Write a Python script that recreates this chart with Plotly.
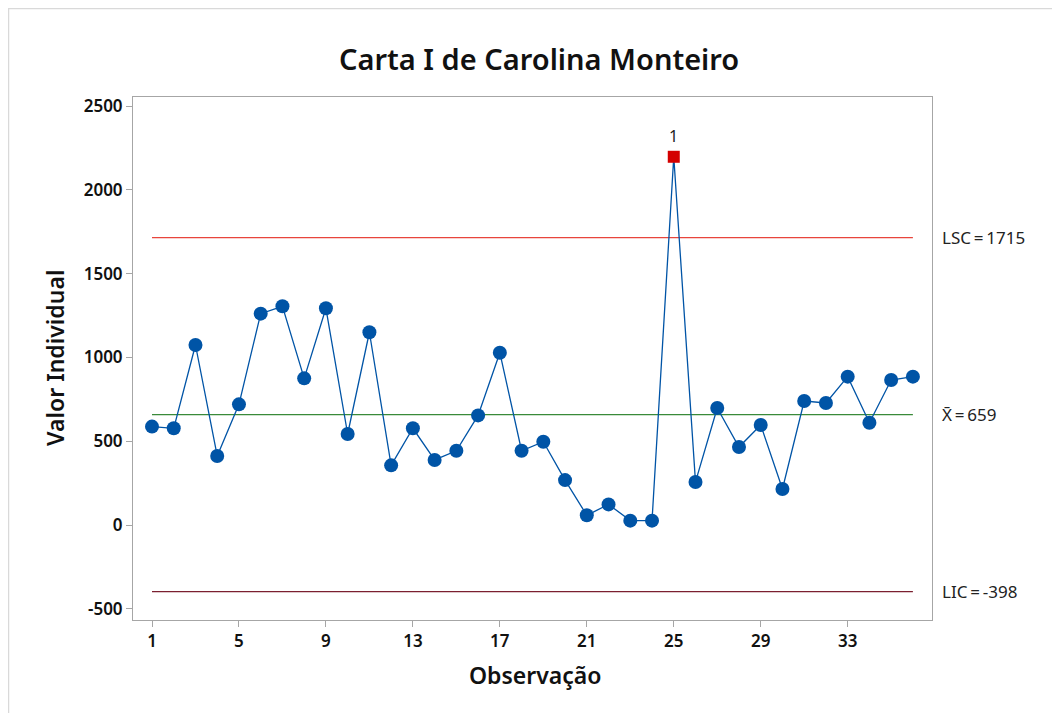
import plotly.graph_objects as go

observacao = list(range(1, 37))
valores = [587, 577, 1074, 412, 720, 1261, 1305, 875, 1293, 543,
           1150, 356, 577, 388, 443, 654, 1028, 443, 497, 268,
           58, 123, 26, 26, 2197, 257, 698, 465, 597, 215,
           740, 728, 885, 610, 865, 885]
lsc = 1715
media = 659
lic = -398
fora_controle = [25]
x_ticks = [1, 5, 9, 13, 17, 21, 25, 29, 33]
y_ticks = [-500, 0, 500, 1000, 1500, 2000, 2500]
y_tick_text = ["-500", "0", "500", "1000", "1500", "2000", "2500"]

OFF = 8  # page body margin
W, H = 1052, 705
L, T = 133 - OFF, 97 - OFF
R = W - (932 - OFF)
B = H - (620 - OFF)
pw, ph = W - L - R, H - T - B

def px(xp):
    return (xp - OFF - L) / pw

def py(yp):
    return (H - B - (yp - OFF)) / ph

FONT = "Noto Sans"
blue = "#0054A6"

fig = go.Figure()

for val, col in [(lsc, "#E8453C"), (media, "#3A8A3A"), (lic, "#7B2030")]:
    fig.add_trace(go.Scatter(x=[observacao[0], observacao[-1]], y=[val, val],
                             mode="lines", line=dict(color=col, width=1.3),
                             hoverinfo="skip", showlegend=False))

fig.add_trace(go.Scatter(x=observacao, y=valores, mode="lines",
                         line=dict(color=blue, width=1.3), showlegend=False))

normal_x = [o for o in observacao if o not in fora_controle]
normal_y = [v for o, v in zip(observacao, valores) if o not in fora_controle]
fig.add_trace(go.Scatter(x=normal_x, y=normal_y, mode="markers",
                         marker=dict(color=blue, size=14, symbol="circle"),
                         showlegend=False))
out_x = fora_controle
out_y = [valores[o - 1] for o in fora_controle]
fig.add_trace(go.Scatter(x=out_x, y=out_y, mode="markers",
                         marker=dict(color="#D40000", size=12, symbol="square"),
                         showlegend=False))

for o, v in zip(out_x, out_y):
    fig.add_annotation(x=o, y=v, text="1", showarrow=False, yshift=21,
                       font=dict(family=FONT, size=16, color="#222222"))

sp = "\u2009"
for val, txt in [(lsc, f"LSC{sp}={sp}{lsc}"), (media, f"X\u0304{sp}={sp}{media}"),
                 (lic, f"LIC{sp}={sp}{lic}")]:
    fig.add_annotation(x=px(940), xref="paper", y=val, yref="y", text=txt,
                       showarrow=False, xanchor="left", yanchor="middle",
                       font=dict(family=FONT, size=17, color="#222222"))

fig.add_annotation(x=px(539), xref="paper", y=py(58), yref="paper",
                   text="Carta I de Carolina Monteiro", showarrow=False,
                   xanchor="center", yanchor="middle",
                   font=dict(family=FONT, size=29, color="#111111", weight=600))
fig.add_annotation(x=px(535), xref="paper", y=py(675), yref="paper",
                   text="Observação", showarrow=False,
                   xanchor="center", yanchor="middle",
                   font=dict(family=FONT, size=23, color="#111111", weight=600))
fig.add_annotation(x=px(55), xref="paper", y=py(358), yref="paper",
                   text="Valor Individual", showarrow=False, textangle=-90,
                   xanchor="center", yanchor="middle",
                   font=dict(family=FONT, size=23, color="#111111", weight=600))

fig.add_shape(type="rect", xref="paper", yref="paper",
              x0=px(8.5), x1=px(1075), y0=py(730), y1=py(8.5),
              line=dict(color="#D9D9D9", width=1.5), layer="below")

xmin = 1 + (133 - 152) / 21.74
xmax = 1 + (932 - 152) / 21.74
ymax = (525 - 97) / 0.1676
ymin = (525 - 620) / 0.1676

fig.update_xaxes(range=[xmin, xmax], tickvals=x_ticks, showgrid=False,
                 zeroline=False, showline=True, mirror=True, linecolor="#A6A6A6",
                 linewidth=1, ticks="outside", ticklen=6, tickcolor="#A6A6A6",
                 tickfont=dict(family=FONT, size=17, color="#111111", weight=600))
fig.update_yaxes(range=[ymin, ymax], tickvals=y_ticks, ticktext=y_tick_text,
                 showgrid=False,
                 zeroline=False, showline=True, mirror=True, linecolor="#A6A6A6",
                 linewidth=1, ticks="outside", ticklen=6, tickcolor="#A6A6A6",
                 tickfont=dict(family=FONT, size=17, color="#111111", weight=600))

fig.update_layout(width=W, height=H, margin=dict(l=L, r=R, t=T, b=B),
                  plot_bgcolor="white", paper_bgcolor="white",
                  showlegend=False, hovermode=False)

fig.write_html("out.html")
